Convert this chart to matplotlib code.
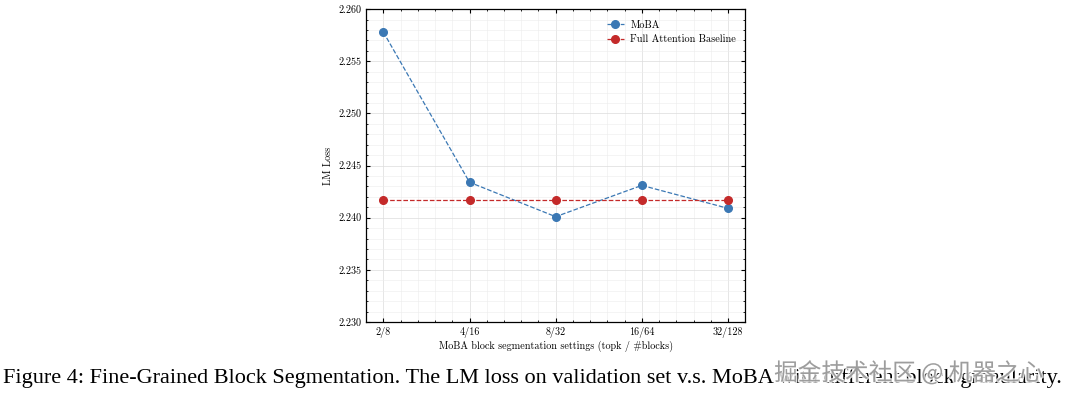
import numpy as np
import matplotlib as mpl
import matplotlib.pyplot as plt
import matplotlib.patheffects as pe
from matplotlib.ticker import MultipleLocator

mpl.rcParams.update({
    "font.family": "serif", "font.serif": ["cmr10"], "mathtext.fontset": "cm",
    "axes.formatter.use_mathtext": True, "font.size": 7.3,
    "xtick.direction": "in", "ytick.direction": "in",
    "xtick.top": True, "ytick.right": True,
    "xtick.major.size": 3, "ytick.major.size": 3,
    "xtick.minor.size": 1.5, "ytick.minor.size": 1.5,
    "axes.linewidth": 0.9,
})

settings = ["2/8", "4/16", "8/32", "16/64", "32/128"]
moba = [2.2578, 2.2434, 2.2401, 2.2431, 2.2409]
baseline = [2.2417, 2.2417, 2.2417, 2.2417, 2.2417]

fig = plt.figure(figsize=(10.8, 3.99), dpi=100)
ax = fig.add_axes([0.339, 0.193, 0.351, 0.784])
x = np.arange(len(settings))
ax.plot(x, moba, "--o", color="#3b78b4", lw=0.9, ms=5.5, label="MoBA", zorder=3)
ax.plot(x, baseline, "--o", color="#c42a2a", lw=0.9, ms=5.5, label="Full Attention Baseline", zorder=3)

ax.set_xlim(-0.2, 4.2)
ax.set_ylim(2.230, 2.260)
ax.set_xticks(x)
ax.set_xticklabels(settings)
ax.xaxis.set_minor_locator(MultipleLocator(0.2))
ax.yaxis.set_major_locator(MultipleLocator(0.005))
ax.yaxis.set_minor_locator(MultipleLocator(0.001))
ax.yaxis.set_major_formatter(mpl.ticker.FormatStrFormatter("%.3f"))
ax.tick_params(labelsize=7.3)
ax.grid(which="major", color="#dcdcdc", lw=0.5)
ax.grid(which="minor", color="#ececec", lw=0.4)
ax.set_axisbelow(True)
ax.set_xlabel("MoBA block segmentation settings (topk / #blocks)", labelpad=2)
ax.set_ylabel("LM Loss", labelpad=4)
ax.legend(loc="upper right", frameon=False, handlelength=1.7, fontsize=7.4,
          handletextpad=0.6, labelspacing=0.5, bbox_to_anchor=(1.0, 0.995))

fig.text(0.003, 0.04, "Figure 4: Fine-Grained Block Segmentation. The LM loss on validation set v.s. MoBA with different block granularity.",
         family="Liberation Serif", fontsize=16, ha="left", va="baseline")
fig.text(0.966, 0.047, "掘金技术社区 @ 机器之心", family=["Noto Sans CJK SC", "DejaVu Sans"],
         fontsize=17, color="#8a8a8a", alpha=0.8, ha="right", va="baseline",
         path_effects=[pe.withStroke(linewidth=2, foreground="white")])

fig.savefig("out.png", dpi=100)
